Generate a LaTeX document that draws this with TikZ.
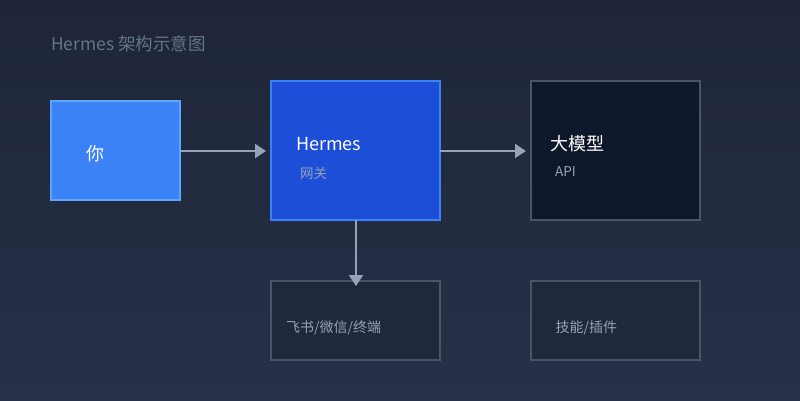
\documentclass[tikz,border=0pt]{standalone}
\usepackage{fontspec}
\setmainfont{Noto Sans CJK SC}
\usetikzlibrary{arrows.meta}
\definecolor{bgtop}{HTML}{1E2538}
\definecolor{bgbot}{HTML}{283149}
\definecolor{youfill}{HTML}{3B82F6}
\definecolor{youdraw}{HTML}{60A5FA}
\definecolor{gwfill}{HTML}{1D4ED8}
\definecolor{gwdraw}{HTML}{3B82F6}
\definecolor{llmfill}{HTML}{0F172A}
\definecolor{slateborder}{HTML}{475569}
\definecolor{subfill}{HTML}{1E293B}
\definecolor{linec}{HTML}{94A3B8}
\definecolor{subtext}{HTML}{94A3B8}
\definecolor{titletext}{HTML}{64748B}
\tikzset{
  boxbase/.style={line width=2pt},
  youbox/.style={boxbase, fill=youfill, draw=youdraw},
  gwbox/.style={boxbase, fill=gwfill, draw=gwdraw},
  llmbox/.style={boxbase, fill=llmfill, draw=slateborder},
  subbox/.style={boxbase, fill=subfill, draw=slateborder},
  maintxt/.style={anchor=west, inner sep=0pt, text=white, font=\fontsize{18}{22}\selectfont},
  smalltxt/.style={anchor=west, inner sep=0pt, text=subtext, font=\fontsize{13.5}{16}\selectfont},
  labeltxt/.style={anchor=west, inner sep=0pt, text=subtext, font=\fontsize{14}{17}\selectfont},
  titletxt/.style={anchor=west, inner sep=0pt, text=titletext, font=\fontsize{17.5}{21}\selectfont},
  conn/.style={draw=linec, line width=2pt, -{Triangle[length=11pt,width=14pt]}}
}
\begin{document}
\begin{tikzpicture}[x=1pt,y=-1pt]
\shade[top color=bgtop, bottom color=bgbot] (0,0) rectangle (800,400);
\useasboundingbox (0,0) rectangle (800,400);
\node[titletxt] (title) at (51,44) {Hermes 架构示意图};
% boxes
\draw[youbox] (51,101) rectangle (180,200);
\coordinate (youR) at (180,151);
\draw[gwbox] (271,81) rectangle (440,220);
\coordinate (gwL) at (271,151);
\coordinate (gwR) at (440,151);
\coordinate (gwB) at (356,220);
\draw[llmbox] (531,81) rectangle (700,220);
\coordinate (llmL) at (531,151);
\draw[subbox] (271,281) rectangle (440,360);
\coordinate (chT) at (356,281);
\draw[subbox] (531,281) rectangle (700,360);
% texts
\node[maintxt] (you) at (86,154) {你};
\node[maintxt] (gw) at (296,144) {Hermes};
\node[smalltxt] (gwsub) at (300,173) {网关};
\node[maintxt] (llm) at (550.5,144) {大模型};
\node[smalltxt] (llmsub) at (555,172) {API};
\node[labeltxt] (ch) at (286,328) {飞书/微信/终端};
\node[labeltxt] (sk) at (555.5,328) {技能/插件};
% connectors
\draw[conn] (youR) -- ([xshift=-5pt]gwL);
\draw[conn] (gwR) -- ([xshift=-5pt]llmL);
\draw[conn] (gwB) -- ([yshift=-5pt]chT);
\end{tikzpicture}
\end{document}
